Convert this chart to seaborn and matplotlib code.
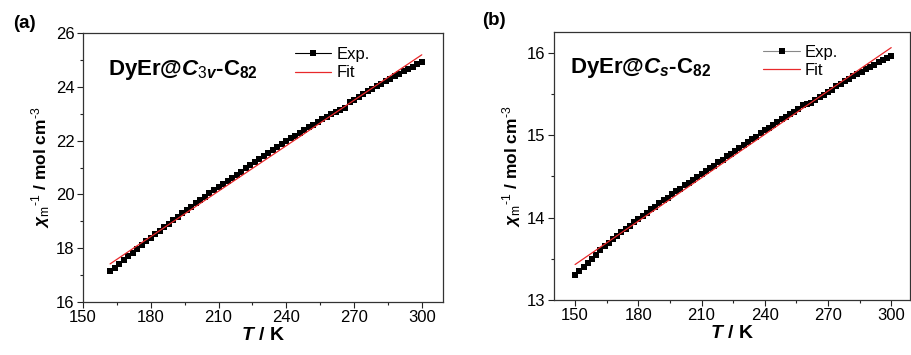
import matplotlib
matplotlib.use("Agg")
import matplotlib.pyplot as plt
from matplotlib.ticker import MultipleLocator
from matplotlib.lines import Line2D
import seaborn as sns
import pandas as pd

# ---------------- data ----------------
T_a = [162, 164, 166, 168, 170, 172, 174, 176, 178, 180, 182, 184, 186, 188, 190,
       192, 194, 196, 198, 200, 202, 204, 206, 208, 210, 212, 214, 216, 218, 220,
       222, 224, 226, 228, 230, 232, 234, 236, 238, 240, 242, 244, 246, 248, 250,
       252, 254, 256, 258, 260, 262, 264, 266, 268, 270, 272, 274, 276, 278, 280,
       282, 284, 286, 288, 290, 292, 294, 296, 298, 300]
chi_a = [17.14, 17.28, 17.42, 17.56, 17.70, 17.84, 17.98, 18.12, 18.26, 18.40,
         18.53, 18.66, 18.79, 18.92, 19.05, 19.18, 19.30, 19.43, 19.55, 19.68,
         19.80, 19.92, 20.04, 20.16, 20.28, 20.40, 20.51, 20.63, 20.74, 20.85,
         20.97, 21.08, 21.19, 21.31, 21.42, 21.53, 21.64, 21.75, 21.86, 21.97,
         22.08, 22.18, 22.29, 22.40, 22.50, 22.60, 22.69, 22.79, 22.88, 22.98,
         23.06, 23.13, 23.20, 23.45, 23.52, 23.62, 23.72, 23.83, 23.93, 24.03,
         24.12, 24.21, 24.30, 24.39, 24.48, 24.57, 24.66, 24.75, 24.84, 24.92]
fit_T_a = [162, 300]
fit_chi_a = [17.42, 25.19]

T_b = [150, 152, 154, 156, 158, 160, 162, 164, 166, 168, 170, 172, 174, 176, 178,
       180, 182, 184, 186, 188, 190, 192, 194, 196, 198, 200, 202, 204, 206, 208,
       210, 212, 214, 216, 218, 220, 222, 224, 226, 228, 230, 232, 234, 236, 238,
       240, 242, 244, 246, 248, 250, 252, 254, 256, 258, 260, 262, 264, 266, 268,
       270, 272, 274, 276, 278, 280, 282, 284, 286, 288, 290, 292, 294, 296, 298, 300]
chi_b = [13.30, 13.35, 13.40, 13.45, 13.50, 13.55, 13.60, 13.65, 13.69, 13.74,
         13.78, 13.82, 13.86, 13.90, 13.94, 13.98, 14.02, 14.06, 14.10, 14.13,
         14.17, 14.21, 14.24, 14.28, 14.32, 14.35, 14.39, 14.42, 14.46, 14.49,
         14.53, 14.56, 14.60, 14.63, 14.67, 14.70, 14.74, 14.77, 14.81, 14.84,
         14.88, 14.91, 14.95, 14.98, 15.02, 15.06, 15.09, 15.12, 15.16, 15.19,
         15.22, 15.25, 15.28, 15.31, 15.36, 15.38, 15.39, 15.42, 15.46, 15.49,
         15.52, 15.55, 15.59, 15.62, 15.65, 15.68, 15.71, 15.74, 15.77, 15.80,
         15.83, 15.85, 15.88, 15.91, 15.94, 15.96]
fit_T_b = [150, 300]
fit_chi_b = [13.43, 16.06]

xticks = [150, 180, 210, 240, 270, 300]
yticks_a = [16, 18, 20, 22, 24, 26]
yticks_b = [13, 14, 15, 16]

# ---------------- style ----------------
sns.set_theme(style="ticks")
plt.rcParams["font.family"] = ["Liberation Sans", "DejaVu Sans"]
plt.rcParams["mathtext.fontset"] = "custom"
plt.rcParams["mathtext.rm"] = "Liberation Sans"
plt.rcParams["mathtext.bf"] = "Liberation Sans:bold"
plt.rcParams["mathtext.it"] = "Liberation Sans:bold:italic"
for k in ["text.color", "axes.labelcolor", "xtick.labelcolor", "ytick.labelcolor"]:
    plt.rcParams[k] = "black"

fig = plt.figure(figsize=(9.12, 3.55), dpi=100)
ax_a = fig.add_axes([0.091, 0.149, 0.395, 0.758])
ax_b = fig.add_axes([0.607, 0.155, 0.391, 0.755])

HY = "\u2010"
YLABEL = (r"$\chi_{\mathrm{m}}$$^{\mathrm{" + HY + r"1}}$ / mol cm$^{\mathrm{" + HY + r"3}}$")


def style_axes(ax, xlim, ylim, yticks, yminor):
    ax.set_xlim(*xlim)
    ax.set_ylim(*ylim)
    ax.set_xticks(xticks)
    ax.set_yticks(yticks)
    ax.xaxis.set_minor_locator(MultipleLocator(15))
    ax.yaxis.set_minor_locator(MultipleLocator(yminor))
    ax.tick_params(which="major", direction="out", length=4, width=0.8,
                   labelsize=12, colors="#222222", labelcolor="black", pad=2)
    ax.tick_params(which="minor", direction="out", length=2.5, width=0.8,
                   colors="#222222")
    ax.tick_params(top=False, right=False)
    for s in ax.spines.values():
        s.set_linewidth(0.9)
        s.set_color("#333333")
    ax.set_xlabel(r"$T$ / K", fontsize=14, fontweight="bold", labelpad=1)
    ax.set_ylabel(YLABEL, fontsize=12.5, fontweight="bold", labelpad=3)


def draw(ax, T, chi, fT, fchi, linecolor):
    df = pd.DataFrame({"T": T, "chi": chi})
    dff = pd.DataFrame({"T": fT, "chi": fchi})
    sns.lineplot(data=df, x="T", y="chi", ax=ax, color=linecolor, linewidth=0.8,
                 marker="s", markersize=4.5, markerfacecolor="black",
                 markeredgecolor="black", markeredgewidth=0, zorder=2)
    sns.lineplot(data=dff, x="T", y="chi", ax=ax, color="#e8292b", linewidth=0.9,
                 zorder=3)


draw(ax_a, T_a, chi_a, fit_T_a, fit_chi_a, "black")
draw(ax_b, T_b, chi_b, fit_T_b, fit_chi_b, "#555555")

style_axes(ax_a, (150, 309.5), (16, 26), yticks_a, 1)
style_axes(ax_b, (139.8, 309), (13, 16.25), yticks_b, 0.5)

for ax, lc, anchor in [(ax_a, "black", (0.56, 0.985)), (ax_b, "#888888", (0.56, 0.99))]:
    handles = [Line2D([], [], color=lc, linewidth=0.8, marker="s", markersize=4.5,
                      markerfacecolor="black", markeredgewidth=0),
               Line2D([], [], color="#e8292b", linewidth=0.9)]
    ax.legend(handles, ["Exp.", "Fit"], loc="upper left", bbox_to_anchor=anchor,
              frameon=False, fontsize=12, handlelength=2.2, handletextpad=0.3,
              labelspacing=0.2, borderaxespad=0.2)

ax_a.text(0.07, 0.845, r"DyEr@$C_{3v}$-C$_{\mathbf{82}}$", transform=ax_a.transAxes,
          fontsize=16, fontweight="bold", ha="left", va="baseline")
ax_b.text(0.045, 0.848, r"DyEr@$C_{s}$-C$_{\mathbf{82}}$", transform=ax_b.transAxes,
          fontsize=16, fontweight="bold", ha="left", va="baseline")

fig.text(0.014, 0.935, "(a)", fontsize=13.5, fontweight="bold", ha="left", va="center")
fig.text(0.529, 0.943, "(b)", fontsize=13.5, fontweight="bold", ha="left", va="center")

fig.savefig("out.png", dpi=100)
